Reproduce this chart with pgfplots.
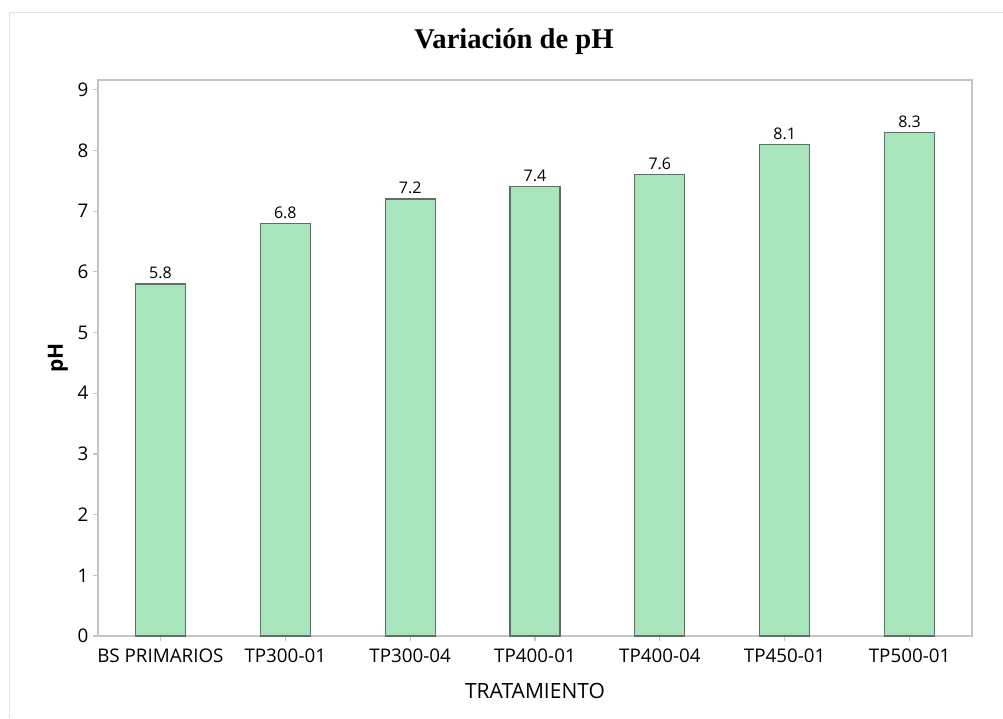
\documentclass[border=0pt]{standalone}
\usepackage{fontspec}
\setmainfont{Open Sans}
\newfontfamily\titlefont{Liberation Serif}
\usepackage{pgfplots}
\pgfplotsset{compat=1.18}
\definecolor{barfill}{RGB}{168,228,188}
\definecolor{baredge}{RGB}{96,110,102}
\definecolor{axgray}{RGB}{196,196,196}
\definecolor{framegray}{RGB}{226,226,226}
\begin{document}
\begin{tikzpicture}
\useasboundingbox (-98pt,-82pt) rectangle (905pt,636pt);
\draw[framegray, line width=1pt] (-88pt,-82pt) -- (-88pt,623pt) -- (905pt,623pt);
\begin{axis}[
  at={(0pt,0pt)}, anchor=south west,
  scale only axis, width=874pt, height=556pt,
  xmin=-0.5, xmax=6.5, ymin=0, ymax=9.16,
  ytick={0,1,...,9},
  xtick={0,1,...,6},
  xticklabels={BS PRIMARIOS,TP300-01,TP300-04,TP400-01,TP400-04,TP450-01,TP500-01},
  axis line style={axgray, line width=1.5pt},
  tick style={axgray, line width=1.2pt},
  major tick length=5pt,
  tick align=outside,
  xtick pos=bottom, ytick pos=left,
  ticklabel style={font=\fontsize{18.8}{22}\selectfont, text=black},
  yticklabel style={xshift=-1pt},
  xticklabel style={yshift=-4pt},
  /pgf/number format/assume math mode=true,
  xlabel={TRATAMIENTO},
  ylabel={\bfseries pH},
  xlabel style={font=\fontsize{21}{24}\selectfont, at={(axis description cs:0.5,-0.099)}, anchor=center},
  ylabel style={font=\fontsize{21}{24}\selectfont, at={(axis description cs:-0.0458,0.5)}, anchor=center},
  title={\titlefont\bfseries Variación de pH},
  title style={font=\fontsize{28.6}{32}\selectfont, at={(axis description cs:0.476,1.045)}, anchor=base},
]
\addplot[ybar, bar width=50pt, fill=barfill, draw=baredge, line width=1.2pt,
  nodes near coords,
  nodes near coords style={font=\fontsize{16}{18}\selectfont, text=black, yshift=1pt}]
  coordinates {(0,5.8) (1,6.8) (2,7.2) (3,7.4) (4,7.6) (5,8.1) (6,8.3)};
\end{axis}
\end{tikzpicture}
\end{document}
